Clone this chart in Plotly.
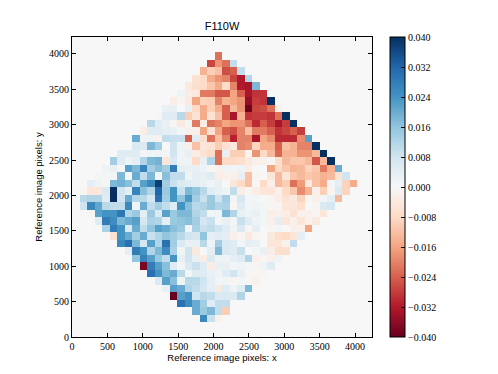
"""
F110W residual map, reference image pixels
"""

import numpy as np
import plotly.graph_objects as go

# map values in units of 0.001, each row starts at the column given in row_start
row_02 = [26, 9, -2]
row_03 = [20, 15, 18, 10, -10]
row_04 = [30, 25, 20, 14, 5, 10, 10]
row_05 = [-40, 22, 24, 8, 11, 10, 6, 6, 6, 12]
row_06 = [3, 22, 20, 12, 10, 7, 4, -4, 5, 2, 5, 18]
row_07 = [6, 22, 17, 2, 11, 11, 8, 4, 1, 1, -1, 1, -1, -2]
row_08 = [30, 24, 18, 20, 11, 1, 5, 5, 3, 2, 5, 8, 3, -1, -1, -1]
row_09 = [-38, 28, 22, 17, 5, 1, 6, 9, 5, -3, 3, 3, 1, 2, 1, -1, 2, 5]
row_10 = [16, 27, 22, 15, 10, 24, 3, 8, 3, -3, 6, 2, 2, 4, 5, 12, -2, -1, -2, 2]
row_11 = [4, 28, 24, 12, 18, 25, 13, 1, 8, -4, 0, 4, 18, 6, 5, 9, 0, 1, 3, -3, -7, -7]
row_12 = [26, 30, 18, 7, 22, 12, 30, 14, 6, 3, 3, 11, 2, 14, 6, 5, 1, 4, 3, 0, -5, -5, -2, 10]
row_13 = [-6, 24, 20, 14, 20, 9, 12, 16, 14, 11, 8, 7, 16, 4, 5, 4, -2, -1, -4, -1, 0, -4, -7, -8, -5, 4]
row_14 = [13, 28, 24, 6, 20, 10, 16, 22, 20, 17, 15, 1, 13, 9, 10, 8, 5, 2, 6, -1, 4, 0, -1, 1, 0, -2, -2, -16]
row_15 = [5, 28, 25, 18, 20, 22, 7, 13, 12, 4, 15, 16, 17, 14, 7, 9, 1, 3, 1, 9, 5, 2, 1, -2, 4, -5, -2, -5, -2, -4]
row_16 = [-1, 22, 24, 24, 29, 12, 15, 4, 15, 6, 22, 15, 18, 18, 12, 10, 1, 2, 18, 12, 3, 2, 3, 1, -3, -2, -3, -6, -2, -2, -1, -5]
row_17 = [8, 26, 21, 11, 10, 10, 26, 2, 20, 10, 14, 10, 5, 24, 17, 11, 12, 15, 12, 13, -1, 5, 1, 2, 1, -1, -1, -5, -5, -7, 0, -1, 6, 7]
row_18 = [11, 12, 12, 5, 40, 8, 20, 12, 11, 7, 30, 14, 24, 16, 23, 14, 9, 15, 8, 14, 1, 7, 1, 1, 0, -1, -3, -6, -4, -9, -1, -2, 1, 4, -13]
row_19 = [-1, -5, -5, 6, 40, 8, 4, 27, 17, 12, 32, 15, 24, 9, 18, 16, 11, 5, 3, 2, 10, -3, -1, -3, -5, -5, -2, -8, -11, -19, -14, -2, -10, -1, 6, -9]
row_20 = [4, 2, -1, 18, 19, 17, 10, 22, 26, 38, 14, 9, 6, 5, 4, 3, 2, 3, 0, -5, -8, -12, 0, -8, -2, -13, -10, -22, -17, -4, -12, -15, 1, 4, -9, -15]
row_21 = [1, 1, 1, 18, 1, 20, 10, 18, 1, 17, 10, 10, 2, 4, 3, 5, -3, -2, -2, 3, -12, -1, 0, -5, -13, -5, -11, -13, -11, -12, -14, -13, -6, 8]
row_22 = [2, 3, 1, 22, 18, 27, 14, 17, 14, 28, 4, 3, 3, 2, -1, -2, 2, 1, 2, -3, 0, 0, -16, -8, -11, -14, -13, -9, -11, -21, -14, 20]
row_23 = [14, 5, 2, 4, 12, 18, 19, -5, 6, 2, 2, -8, 3, 12, -22, -8, -8, -7, -4, -2, -2, -1, -7, -13, -11, -11, -13, -25, -13, 40]
row_24 = [5, 5, 5, 1, 2, 2, 1, 8, 2, 3, -3, -6, -8, -22, 3, -10, -10, -1, -18, -8, -13, -23, -14, -14, -18, -18, -13, 40]
row_25 = [6, 6, 18, 14, 0, 8, 2, -2, -12, -5, -6, -10, -6, -4, -20, -19, -9, -15, -15, -24, -12, -14, -20, -20, 40]
row_26 = [20, 2, 2, -2, 10, 9, 9, -24, 5, -7, -22, -12, -20, -31, -20, -20, -33, -16, -19, -30, -30, -30, -19, 22]
row_27 = [-3, 5, 5, 4, 3, 1, -2, -2, -16, -6, -16, -24, -26, -20, -12, -21, -21, -24, -29, -27, -24, -28]
row_28 = [11, 5, 3, -1, -4, 1, -21, -3, -22, -20, -16, -18, -18, -22, -30, -24, -28, -33, -28, 40]
row_29 = [-1, 5, 5, 11, -10, -6, -15, -6, -12, -24, -33, -14, -29, -28, -28, -29, -22, 40]
row_30 = [3, 3, 0, 3, -8, -15, -10, -15, -24, -13, -18, -39, -27, -26, -22, -2]
row_31 = [-3, -1, -4, -16, -9, -10, -20, -14, -16, -18, -35, -28, -29, 40]
row_32 = [2, -3, -4, -21, -21, -25, -25, -16, -24, -33, -29, -29]
row_33 = [-4, -7, -8, -11, -15, -8, -20, -32, -33, 18]
row_34 = [-6, -8, -15, -18, -20, -27, -32, 12]
row_35 = [-14, -10, -12, -26, -24, 10]
row_36 = [-27, -18, -22, 10]
row_37 = [-22]

row_start = [17, 16, 14, 13, 12, 11, 10, 9, 8, 7, 6, 5, 4, 3, 2, 1, 1, 1,
             2, 3, 4, 5, 6, 8, 8, 9, 10, 11, 12, 13, 14, 15, 16, 17, 18, 19]
rows = [row_02, row_03, row_04, row_05, row_06, row_07, row_08, row_09, row_10,
        row_11, row_12, row_13, row_14, row_15, row_16, row_17, row_18, row_19,
        row_20, row_21, row_22, row_23, row_24, row_25, row_26, row_27, row_28,
        row_29, row_30, row_31, row_32, row_33, row_34, row_35, row_36, row_37]

axis_ticks = [0, 500, 1000, 1500, 2000, 2500, 3000, 3500, 4000]
bar_ticks = [0.04, 0.032, 0.024, 0.016, 0.008, 0.0, -0.008, -0.016, -0.024, -0.032, -0.04]
bar_labels = ["0.040", "0.032", "0.024", "0.016", "0.008", "0.000",
              "\u22120.008", "\u22120.016", "\u22120.024", "\u22120.032", "\u22120.040"]

# matplotlib RdBu
rdbu = ["#67001f", "#b2182b", "#d6604d", "#f4a582", "#fddbc7", "#f7f7f7",
        "#d1e5f0", "#92c5de", "#4393c3", "#2166ac", "#053061"]
colorscale = [[i / 10, c] for i, c in enumerate(rdbu)]

n_cells = 40
cell = 106

z = np.full((n_cells, n_cells), np.nan)
for j, (start, values) in enumerate(zip(row_start, rows)):
    z[j + 2, start:start + len(values)] = np.array(values) / 1000

fig = go.Figure(
    go.Heatmap(
        z=z,
        x0=cell / 2,
        dx=cell,
        y0=cell / 2,
        dy=cell,
        zmin=-0.04,
        zmax=0.04,
        colorscale=colorscale,
        colorbar=dict(
            x=1.06,
            xanchor="left",
            xpad=0,
            y=0.5,
            len=1,
            ypad=0,
            thickness=15,
            outlinewidth=1,
            outlinecolor="black",
            tickmode="array",
            tickvals=bar_ticks,
            ticktext=bar_labels,
            ticks="inside",
            ticklen=4,
            tickcolor="black",
            tickfont=dict(family="Liberation Serif", size=10, color="black"),
        ),
    )
)

axis_style = dict(
    range=[0, n_cells * cell],
    tickmode="array",
    tickvals=axis_ticks,
    ticks="inside",
    ticklen=4,
    tickcolor="black",
    showline=True,
    linecolor="black",
    linewidth=1,
    mirror="ticks",
    showgrid=False,
    zeroline=False,
    tickfont=dict(family="Liberation Serif", size=10, color="black"),
)

fig.update_layout(
    # the page adds 8px round the figure
    width=490,
    height=366,
    margin=dict(l=64, r=126, t=29, b=37),
    paper_bgcolor="white",
    plot_bgcolor="#f7f7f7",
    title=dict(
        text="F110W",
        x=214 / 490,
        xanchor="center",
        y=1 - 18 / 366,
        yanchor="middle",
        font=dict(family="Liberation Sans", size=11, color="black"),
    ),
    xaxis=dict(
        axis_style,
        title=dict(
            text="Reference image pixels: x",
            standoff=2,
            font=dict(family="Liberation Sans", size=9.5, color="black"),
        ),
    ),
    yaxis=dict(
        axis_style,
        title=dict(
            text="Reference image pixels: y",
            standoff=4,
            font=dict(family="Liberation Sans", size=9.5, color="black"),
        ),
    ),
)

fig.write_html("out.html")
